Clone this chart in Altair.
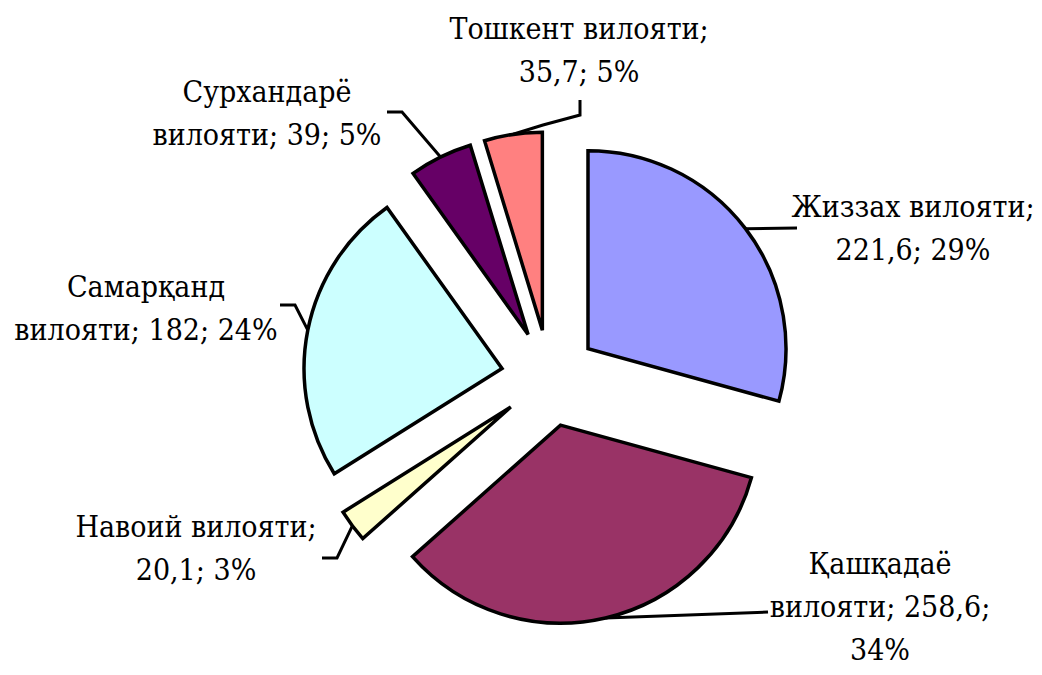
import math
import altair as alt
import pandas as pd

# ---- data ----
regions = ["Жиззах", "Қашқадаё", "Навоий", "Самарқанд", "Сурхандарё", "Тошкент"]
values = [221.6, 258.6, 20.1, 182, 39, 35.7]
suffix = "вилояти"
colors = ["#9999FF", "#993366", "#FFFFCC", "#CCFFFF", "#660066", "#FF8080"]

# ---- layout (chart coordinates, px) ----
W, H = 1026, 659
CX, CY = 541.5, 370.0      # un-exploded pie centre
EXPLODE = 48.4             # explosion distance
R = 198                    # pie radius
words_per_line = [[2, 2], [1, 2, 1], [2, 2], [1, 3], [1, 3], [2, 2]]
label_pos = [(905, 209), (872, 566), (188, 529), (138, 289), (259, 94), (571, 31)]
leader_tail = [
    [(789, 220)],
    [(760, 604)],
    [(329, 550), (314, 550)],
    [(287, 297), (272, 297)],
    [(394, 104), (379, 104)],
    [(535, 117), (572, 107), (572, 92)],
]

total = sum(values)

def fmt(v):
    return f"{v:g}".replace(".", ",")

rows, lead_rows, lab_rows = [], [], []
cum = 0.0
for i, (reg, v) in enumerate(zip(regions, values)):
    c0, c1 = cum, cum + v
    cum = c1
    mid = 2 * math.pi * (c0 + c1) / 2 / total
    cx = CX + EXPLODE * math.sin(mid)
    cy = CY - EXPLODE * math.cos(mid)
    rows.append({"region": reg, "c0": c0, "c1": c1, "cx": cx, "cy": cy})
    pts = [(cx + R * math.sin(mid), cy - R * math.cos(mid))] + leader_tail[i]
    for k, (px, py) in enumerate(pts):
        lead_rows.append({"region": reg, "k": k, "x": px, "y": py})
    pct = round(v / total * 100)
    words = [reg, suffix + ";", fmt(v) + ";", f"{pct}%"]
    lines, p = [], 0
    for n in words_per_line[i]:
        lines.append(" ".join(words[p:p + n]))
        p += n
    lab_rows.append({"region": reg, "x": label_pos[i][0], "y": label_pos[i][1],
                     "text": "\n".join(lines)})

slices = pd.DataFrame(rows)
leaders = pd.DataFrame(lead_rows)
labels = pd.DataFrame(lab_rows)

xs = alt.Scale(domain=[0, W], range=[0, W])
ys = alt.Scale(domain=[0, H], range=[0, H])

arcs = alt.Chart(slices).mark_arc(
    outerRadius=R, stroke="black", strokeWidth=3.5, strokeJoin="miter"
).encode(
    x=alt.X("cx:Q", scale=xs, axis=None),
    y=alt.Y("cy:Q", scale=ys, axis=None),
    theta=alt.Theta("c0:Q", scale=alt.Scale(domain=[0, total], range=[0, 2 * math.pi]), stack=False),
    theta2=alt.Theta2("c1:Q"),
    color=alt.Color("region:N", scale=alt.Scale(domain=regions, range=colors), legend=None),
)

lead = alt.Chart(leaders).mark_line(color="black", strokeWidth=3).encode(
    x=alt.X("x:Q", scale=xs, axis=None),
    y=alt.Y("y:Q", scale=ys, axis=None),
    detail="region:N",
    order="k:Q",
)

text = alt.Chart(labels).mark_text(
    align="center", baseline="alphabetic", lineBreak="\n", lineHeight=43,
    font="DejaVu Serif Condensed", fontSize=30, color="black",
).encode(
    x=alt.X("x:Q", scale=xs, axis=None),
    y=alt.Y("y:Q", scale=ys, axis=None),
    text="text:N",
)

chart = alt.layer(lead, arcs, text).properties(
    width=W, height=H, padding=0, autosize=alt.AutoSizeParams(type="none"),
    background="white",
).configure_view(stroke=None)

chart.save("out.html", embed_options={"renderer": "svg", "actions": False})
